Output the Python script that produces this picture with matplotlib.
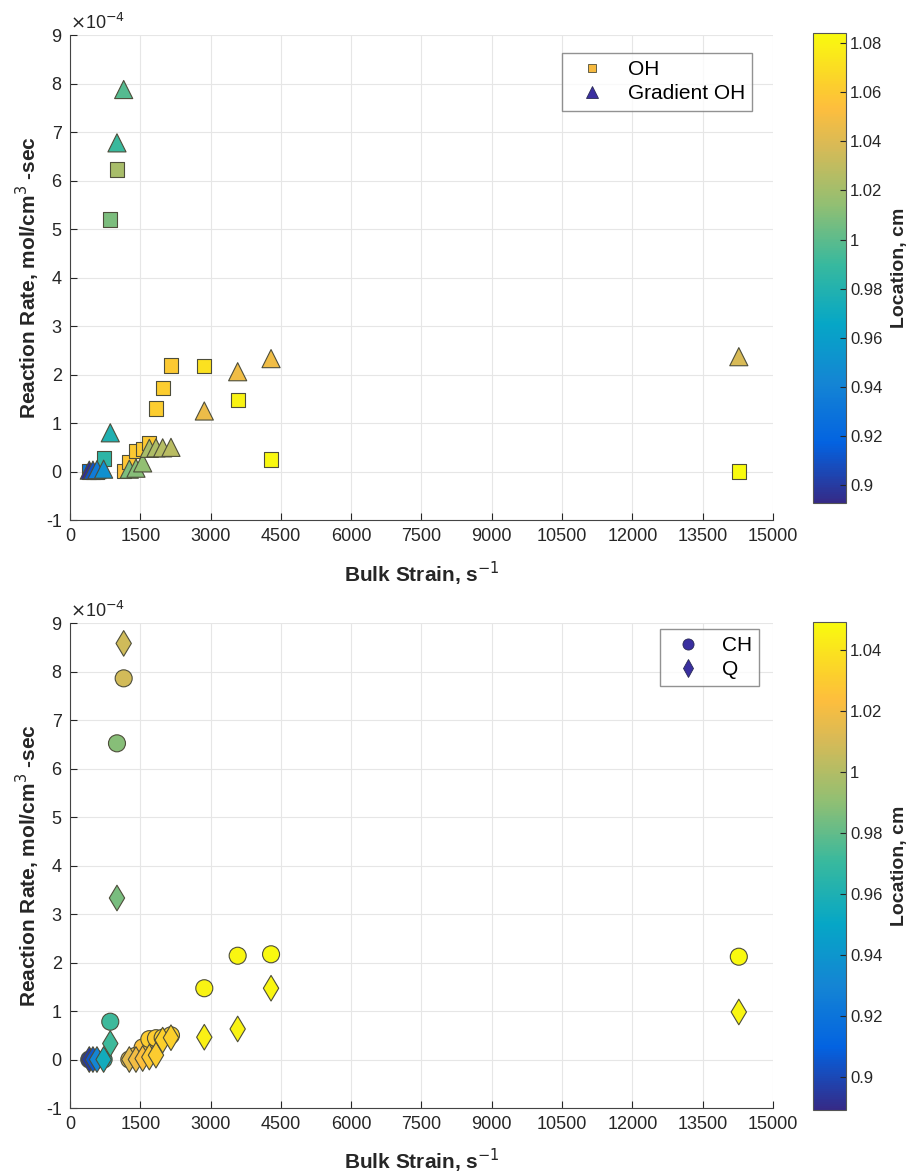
import numpy as np
import matplotlib
matplotlib.use('Agg')
import matplotlib.pyplot as plt
from matplotlib.colors import LinearSegmentedColormap, Normalize
from matplotlib.lines import Line2D

plt.rcParams['font.family'] = ['Liberation Sans', 'DejaVu Sans']
plt.rcParams['axes.unicode_minus'] = False

# strain cases (s^-1)
strain = [412, 490, 576, 718, 860, 1003, 1146, 1266, 1408, 1551, 1693, 1835,
          1978, 2155, 2866, 3578, 4290, 14270]

# top panel: reaction rate (x1e-4 mol/cm3-sec) and location (cm)
oh_rate = [0.0, 0.0, 0.0, 0.27, 5.2, 6.23, 0.02, 0.2, 0.42, 0.46, 0.59, 1.30,
           1.72, 2.19, 2.17, 1.47, 0.25, 0.0]
oh_loc = [0.93, 0.94, 0.95, 0.985, 1.008, 1.022, 1.055, 1.058, 1.06, 1.06, 1.06,
          1.062, 1.062, 1.06, 1.072, 1.08, 1.082, 1.084]
grad_rate = [0.03, 0.03, 0.04, 0.05, 0.80, 6.78, 7.88, 0.05, 0.07, 0.18, 0.48,
             0.49, 0.49, 0.50, 1.25, 2.06, 2.33, 2.37]
grad_loc = [0.895, 0.91, 0.935, 0.95, 0.978, 0.99, 0.998, 1.008, 1.011, 1.014, 1.022,
            1.024, 1.026, 1.028, 1.046, 1.048, 1.048, 1.038]

# bottom panel
ch_rate = [0.0, 0.0, 0.0, 0.0, 0.78, 6.52, 7.86, 0.0, 0.08, 0.25, 0.42, 0.44,
           0.45, 0.50, 1.47, 2.14, 2.17, 2.12]
ch_loc = [0.895, 0.91, 0.93, 0.958, 0.972, 0.988, 1.009, 1.015, 1.02, 1.025, 1.03,
          1.03, 1.032, 1.032, 1.046, 1.047, 1.048, 1.048]
q_rate = [0.0, 0.0, 0.0, 0.0, 0.33, 3.33, 8.58, 0.0, 0.0, 0.02, 0.05, 0.09,
          0.40, 0.45, 0.46, 0.63, 1.47, 0.98]
q_loc = [0.895, 0.905, 0.93, 0.955, 0.972, 0.985, 1.008, 1.015, 1.02, 1.024, 1.028,
         1.03, 1.032, 1.032, 1.045, 1.046, 1.047, 1.047]

xticks = [0, 1500, 3000, 4500, 6000, 7500, 9000, 10500, 12000, 13500, 15000]
yticks = list(range(-1, 10))

# parula-like colormap (anchor index out of 63)
anchors = [(0, (0.2081, 0.1663, 0.5292)), (8, (0.0117, 0.3875, 0.8820)),
           (16, (0.0793, 0.5200, 0.8312)), (24, (0.0228, 0.6535, 0.7768)),
           (32, (0.2178, 0.7250, 0.6193)), (40, (0.5709, 0.7485, 0.4494)),
           (48, (0.8507, 0.7299, 0.3360)), (53, (0.9938, 0.7455, 0.2403)),
           (56, (0.9880, 0.8066, 0.1794)), (63, (0.9763, 0.9831, 0.0538))]
parula = LinearSegmentedColormap.from_list('parula', [(i / 63, c) for i, c in anchors])

fig = plt.figure(figsize=(9.17, 11.74), dpi=100)
tc = '#262626'
ec = '#4d4d3a'


def style_axes(ax):
    ax.set_xlim(0, 15000)
    ax.set_ylim(-1, 9)
    ax.set_xticks(xticks)
    ax.set_yticks(yticks)
    ax.grid(True, color='#e6e6e6', linewidth=0.8)
    ax.set_axisbelow(True)
    for s in ['top', 'right']:
        ax.spines[s].set_visible(False)
    for s in ['left', 'bottom']:
        ax.spines[s].set_color('#444444')
    ax.tick_params(direction='in', labelsize=13, colors=tc, length=5, pad=6)
    ax.set_xlabel('Bulk Strain, s$^{-1}$', fontsize=15, fontweight='bold', color=tc, labelpad=10)
    ax.set_ylabel('Reaction Rate, mol/cm$^3$ -sec', fontsize=15, fontweight='bold', color=tc, labelpad=3)
    ax.text(0.0, 1.005, r'$\times$10$^{-4}$', transform=ax.transAxes, fontsize=13,
            color=tc, va='bottom', ha='left')


def add_cbar(sc, rect, ticks):
    cax = fig.add_axes(rect)
    cb = fig.colorbar(sc, cax=cax, ticks=ticks)
    cb.ax.set_yticklabels(['%g' % t for t in ticks])
    cb.ax.tick_params(direction='in', labelsize=12, colors=tc, length=4, pad=3)
    cb.outline.set_edgecolor('#555555')
    cb.set_label('Location, cm', fontsize=14, fontweight='bold', color=tc, labelpad=6)


# top panel
ax1 = fig.add_axes([0.0763, 0.557, 0.7667, 0.413])
norm1 = Normalize(0.8927, 1.0841)
ax1.scatter(strain, oh_rate, c=oh_loc, cmap=parula, norm=norm1, marker='s', s=105,
            edgecolors=ec, linewidths=0.8, zorder=3)
sc1 = ax1.scatter(strain, grad_rate, c=grad_loc, cmap=parula, norm=norm1, marker='^', s=170,
                  edgecolors=ec, linewidths=0.8, zorder=3)
style_axes(ax1)
h1 = [Line2D([], [], ls='', marker='s', ms=6, mfc='#f6b93f', mec=ec, mew=0.6),
      Line2D([], [], ls='', marker='^', ms=8, mfc='#3a2fa0', mec='#2a2a55', mew=0.6)]
ax1.legend(h1, ['OH', 'Gradient OH'], loc='upper right', bbox_to_anchor=(0.985, 0.985),
           fontsize=15, frameon=True, fancybox=False, edgecolor='#777777',
           handlelength=2.2, handletextpad=0.6, borderpad=0.35, labelspacing=0.25)
add_cbar(sc1, [0.8866, 0.5715, 0.036, 0.4004], [0.9, 0.92, 0.94, 0.96, 0.98, 1.0, 1.02, 1.04, 1.06, 1.08])

# bottom panel
ax2 = fig.add_axes([0.0763, 0.0562, 0.7667, 0.4131])
norm2 = Normalize(0.8892, 1.0492)
ax2.scatter(strain, ch_rate, c=ch_loc, cmap=parula, norm=norm2, marker='o', s=150,
            edgecolors=ec, linewidths=0.8, zorder=3)
sc2 = ax2.scatter(strain, q_rate, c=q_loc, cmap=parula, norm=norm2, marker='d', s=170,
                  edgecolors=ec, linewidths=0.8, zorder=3)
style_axes(ax2)
h2 = [Line2D([], [], ls='', marker='o', ms=8, mfc='#3a2fa0', mec='#2a2a55', mew=0.6),
      Line2D([], [], ls='', marker='d', ms=9, mfc='#3a2fa0', mec='#2a2a55', mew=0.6)]
ax2.legend(h2, ['CH', 'Q'], loc='upper right', bbox_to_anchor=(0.995, 1.01),
           fontsize=15, frameon=True, fancybox=False, edgecolor='#777777',
           handlelength=2.0, handletextpad=0.6, borderpad=0.35, labelspacing=0.25)
add_cbar(sc2, [0.8866, 0.0545, 0.036, 0.4157], [0.9, 0.92, 0.94, 0.96, 0.98, 1.0, 1.02, 1.04])

fig.savefig('out.png', dpi=100)
